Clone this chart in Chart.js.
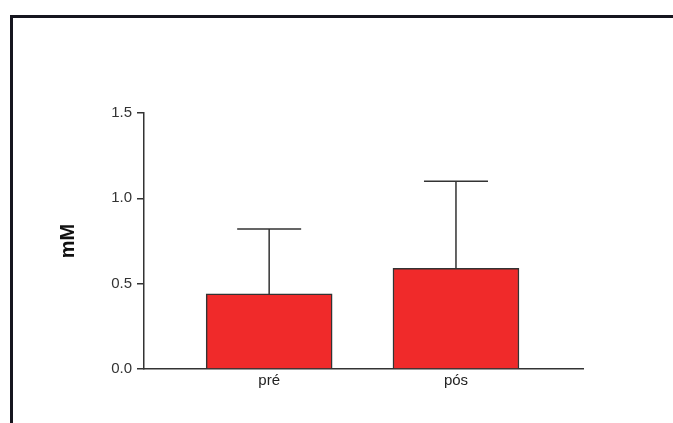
<!DOCTYPE html>
<html>
<head>
<meta charset="utf-8">
<script src="https://cdn.jsdelivr.net/npm/chart.js@4"></script>
<style>
  html, body { margin: 0; padding: 0; background: #fff; }
  #wrap { position: relative; width: 673px; height: 423px; }
  #frame { position: absolute; left: 10px; top: 15px; width: 660px; height: 408px;
           border-top: 3px solid #16161f; border-left: 3px solid #16161f; pointer-events: none; }
</style>
</head>
<body>
<div id="wrap">
  <canvas id="mycanvas" width="673" height="423"></canvas>
  <div id="frame"></div>
</div>
<script>
var categories = ["pré", "pós"];
var means = [0.44, 0.59];
var errors = [0.38, 0.51];
var yTicks = [0, 0.5, 1.0, 1.5];

var points = [];
for (var i in categories) {
	points.push({x: Number(i), y: means[i]});
}

// upper error bars only, like the original
var errorBars = {
	id: "errorBars",
	afterDatasetsDraw: function(chart) {
		var ctx = chart.ctx;
		var xs = chart.scales.x;
		var ys = chart.scales.y;
		ctx.save();
		ctx.strokeStyle = "#333";
		ctx.lineWidth = 1.5;
		for (var i = 0; i < means.length; i++) {
			var x = xs.getPixelForValue(i);
			var y0 = ys.getPixelForValue(means[i]);
			var y1 = ys.getPixelForValue(means[i] + errors[i]);
			ctx.beginPath();
			ctx.moveTo(x, y0);
			ctx.lineTo(x, y1);
			ctx.moveTo(x - 32, y1);
			ctx.lineTo(x + 32, y1);
			ctx.stroke();
		}
		ctx.restore();
	}
};

var ctx = document.getElementById("mycanvas");

var BarGraph = new Chart(ctx, {
	type: "bar",
	data: {
		datasets: [{
			data: points,
			backgroundColor: "rgb(240, 42, 42)",
			borderColor: "#333",
			borderWidth: 1.5,
			barThickness: 126
		}]
	},
	options: {
		responsive: false,
		animation: false,
		layout: { padding: { left: 52, top: 113, right: 90, bottom: 0 } },
		plugins: { legend: { display: false }, tooltip: { enabled: false } },
		scales: {
			x: {
				type: "linear",
				offset: false,
				min: -0.67,
				max: 1.68,
				afterBuildTicks: function(scale) {
					scale.ticks = categories.map(function(c, i) { return {value: i}; });
				},
				afterFit: function(scale) { scale.height = 54; },
				grid: { display: false, drawTicks: false, offset: false },
				border: { display: true, color: "#333", width: 1.5 },
				ticks: {
					padding: 3,
					color: "#222",
					font: { family: "Liberation Sans, Arial, sans-serif", size: 15 },
					callback: function(v) { return categories[v]; }
				}
			},
			y: {
				min: 0,
				max: 1.5,
				afterBuildTicks: function(scale) {
					scale.ticks = yTicks.map(function(v) { return {value: v}; });
				},
				afterFit: function(scale) { scale.width = 92; },
				grid: { drawOnChartArea: false, drawTicks: true, tickLength: 7, color: "#333", lineWidth: 1.5 },
				border: { display: true, color: "#333", width: 1.5 },
				ticks: {
					padding: 5,
					color: "#333",
					font: { family: "Liberation Sans, Arial, sans-serif", size: 15 },
					callback: function(v) { return v.toFixed(1); }
				},
				title: {
					display: true,
					text: "mM",
					color: "#111",
					padding: { top: 4, bottom: 4 },
					font: { family: "Liberation Sans, Arial, sans-serif", size: 20, weight: "bold" }
				}
			}
		}
	},
	plugins: [errorBars]
});
</script>
</body>
</html>
